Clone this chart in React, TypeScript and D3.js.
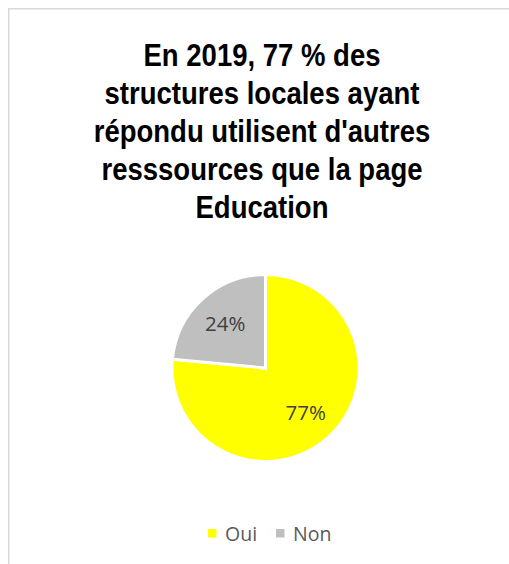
import React from "react";
import * as d3 from "d3";

const categories = ["Oui", "Non"];
const values = [76.5, 23.5];
const valueLabels = ["77%", "24%"];
const colors = ["#FFFF00", "#BFBFBF"];
const titleLines = [
  "En 2019, 77 % des",
  "structures locales ayant",
  "répondu utilisent d'autres",
  "resssources que la page",
  "Education",
];

const W = 509;
const H = 564;

export default function App() {
  const cx = 265.5;
  const cy = 368;
  const r = 93.5;

  const data = categories.map((c, i) => ({ c, v: values[i], label: valueLabels[i], color: colors[i] }));
  const pie = d3.pie<any>().value((d) => d.v).sort(null);
  const arcs = pie(data);
  const arc = d3.arc<any>().innerRadius(0).outerRadius(r);
  const labelArc = d3.arc<any>().innerRadius(r * 0.64).outerRadius(r * 0.64);

  return (
    <svg width={W} height={H} style={{ position: "absolute", left: 0, top: 0 }}>
      <rect x={0} y={0} width={W} height={H} fill="#ffffff" />
      {/* chart border */}
      <rect x={8.75} y={8.75} width={W + 20} height={H + 20} fill="#ffffff" stroke="#d9d9d9" strokeWidth={1.5} />

      {/* title, narrow bold face simulated by horizontal squeeze */}
      <g transform="translate(262,0) scale(0.86,1)" fontFamily="'Liberation Sans', Arial, sans-serif" fontWeight="bold" fontSize={32} fill="#000000" textAnchor="middle">
        {titleLines.map((t, i) => (
          <text key={i} x={0} y={66 + i * 38}>{t}</text>
        ))}
      </g>

      {/* pie */}
      <g transform={`translate(${cx},${cy})`}>
        {arcs.map((a, i) => (
          <path key={i} d={arc(a) as string} fill={a.data.color} stroke="#ffffff" strokeWidth={3} strokeLinejoin="miter" />
        ))}
        {arcs.map((a, i) => {
          const [lx, ly] = labelArc.centroid(a);
          return (
            <text key={i} x={lx} y={ly} dy="0.36em" textAnchor="middle" fontFamily="'Open Sans', sans-serif" fontSize={20.5} fill="#404040">
              {a.data.label}
            </text>
          );
        })}
      </g>

      {/* legend */}
      <g fontFamily="'Open Sans', sans-serif" fontSize={19.5} fill="#595959">
        {data.map((d, i) => {
          const x0 = 208 + i * 68;
          return (
            <g key={i} transform={`translate(${x0},0)`}>
              <rect x={0} y={529} width={8.5} height={8.5} fill={d.color} />
              <text x={17} y={540.5}>{d.c}</text>
            </g>
          );
        })}
      </g>
    </svg>
  );
}
